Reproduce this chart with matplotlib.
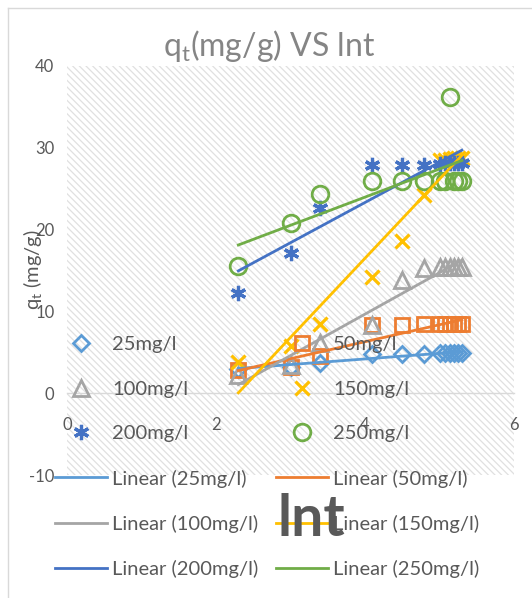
import matplotlib
matplotlib.use("Agg")
import matplotlib.pyplot as plt
from matplotlib.patches import Rectangle
from matplotlib.lines import Line2D
import numpy as np

plt.rcParams['font.family'] = ['Lato', 'DejaVu Sans']
plt.rcParams['hatch.linewidth'] = 0.9
plt.rcParams['axes.unicode_minus'] = False

# ---------------- data ----------------
lnt = [2.30, 3.00, 3.40, 4.09, 4.50, 4.79, 5.01, 5.08, 5.14, 5.19, 5.25, 5.30]
q25 = [3.0, 3.2, 3.7, 4.8, 4.8, 4.8, 4.9, 4.9, 4.9, 4.9, 4.9, 4.9]
q50 = [2.8, 3.2, 4.6, 8.3, 8.3, 8.4, 8.4, 8.4, 8.4, 8.4, 8.4, 8.4]
q100 = [2.2, 3.5, 6.1, 8.3, 13.8, 15.3, 15.4, 15.4, 15.4, 15.4, 15.4, 15.4]
q150 = [3.8, 5.8, 8.5, 14.2, 18.6, 24.2, 28.5, 28.5, 28.6, 28.7, 28.7, 28.7]
q200 = [12.2, 17.2, 22.7, 27.9, 27.9, 27.9, 28.0, 28.1, 28.1, 28.2, 28.2, 28.2]
q250 = [15.6, 20.8, 24.4, 26.0, 26.0, 26.0, 26.0, 26.0, 36.2, 26.0, 26.0, 26.0]

labels = ['25mg/l', '50mg/l', '100mg/l', '150mg/l', '200mg/l', '250mg/l']
series = [q25, q50, q100, q150, q200, q250]
colors = ['#5B9BD5', '#ED7D31', '#A5A5A5', '#FFC000', '#4472C4', '#70AD47']
markers = ['D', 's', '^', 'x', (6, 2, 0), 'o']
msizes = [8.5, 10, 11, 10, 11, 12]
yticks = [-10, 0, 10, 20, 30, 40]
xticks = [0, 2, 4, 6]

W, H = 532, 598
fig = plt.figure(figsize=(W / 100, H / 100), dpi=100)
fig.patch.set_facecolor('white')

# chart border (Excel chart area)
fig.add_artist(Line2D([8 / W, 8 / W], [0, 1 - 8 / H], color='#d9d9d9', lw=1.0))
fig.add_artist(Line2D([8 / W, 1], [1 - 8 / H, 1 - 8 / H], color='#d9d9d9', lw=1.0))

left, right = 67 / W, 514 / W
top, bottom = 1 - 66 / H, 1 - 475 / H
ax = fig.add_axes([left, bottom, right - left, top - bottom])
ax.set_xlim(0, 6)
ax.set_ylim(-10, 40)
ax.patch.set_facecolor('white')
ax.add_patch(Rectangle((0, 0), 1, 1, transform=ax.transAxes, facecolor='none',
                       edgecolor='#e0e0e0', hatch='\\\\\\\\\\', lw=0, zorder=0))

for s in ['left', 'right', 'top']:
    ax.spines[s].set_visible(False)
ax.spines['bottom'].set_position(('data', 0))
ax.spines['bottom'].set_color('#d9d9d9')
ax.spines['bottom'].set_linewidth(1.0)

ax.set_xticks(xticks)
ax.set_yticks(yticks)
ax.tick_params(axis='both', length=0, labelsize=12, labelcolor='#595959')
ax.tick_params(axis='x', pad=17)
ax.tick_params(axis='y', pad=9)

handles_pts = []
handles_lin = []
x = np.array(lnt)
for lab, y, c, m, ms in zip(labels, series, colors, markers, msizes):
    y = np.array(y)
    if m == 'x' or m == (6, 2, 0):
        h, = ax.plot(x, y, linestyle='none', marker=m, ms=ms, mew=2.3, color=c,
                     zorder=3, label=lab)
    else:
        h, = ax.plot(x, y, linestyle='none', marker=m, ms=ms, mew=2.0, mfc='none',
                     mec=c, zorder=3, label=lab)
    handles_pts.append(h)
for lab, y, c in zip(labels, series, colors):
    y = np.array(y)
    k, b = np.polyfit(x, y, 1)
    xs = np.array([x.min(), x.max()])
    hl, = ax.plot(xs, k * xs + b, color=c, lw=2.0, zorder=4,
                  label='Linear (%s)' % lab)
    handles_lin.append(hl)

# title and axis titles
fig.text(269 / W, 1 - 46 / H, r'q$\mathregular{_t}$(mg/g) VS lnt', ha='center',
         va='center', fontsize=23, color='#858585')
fig.text(33 / W, 1 - 270 / H, r'q$\mathregular{_t}$ (mg/g)', rotation=90,
         ha='center', va='center', fontsize=14.5, color='#595959')

# legend (ncol=2 fills column first)
allh = handles_pts + handles_lin
order = [0, 2, 4, 6, 8, 10, 1, 3, 5, 7, 9, 11]
hh = [allh[i] for i in order]
leg = fig.legend(hh, [h.get_label() for h in hh], ncol=2, loc='upper left',
                 bbox_to_anchor=(55 / W, 1 - 336 / H), frameon=False,
                 fontsize=14.5, labelcolor='#595959', handlelength=2.6,
                 handletextpad=0.25, columnspacing=0.85, labelspacing=1.36,
                 borderpad=0, borderaxespad=0)
leg.set_zorder(10)

fig.text(311 / W, 1 - 520 / H, 'lnt', ha='center', va='center', fontsize=41,
         fontweight='bold', color='#595959', zorder=11)

fig.savefig('out.png', dpi=100, facecolor='white')
